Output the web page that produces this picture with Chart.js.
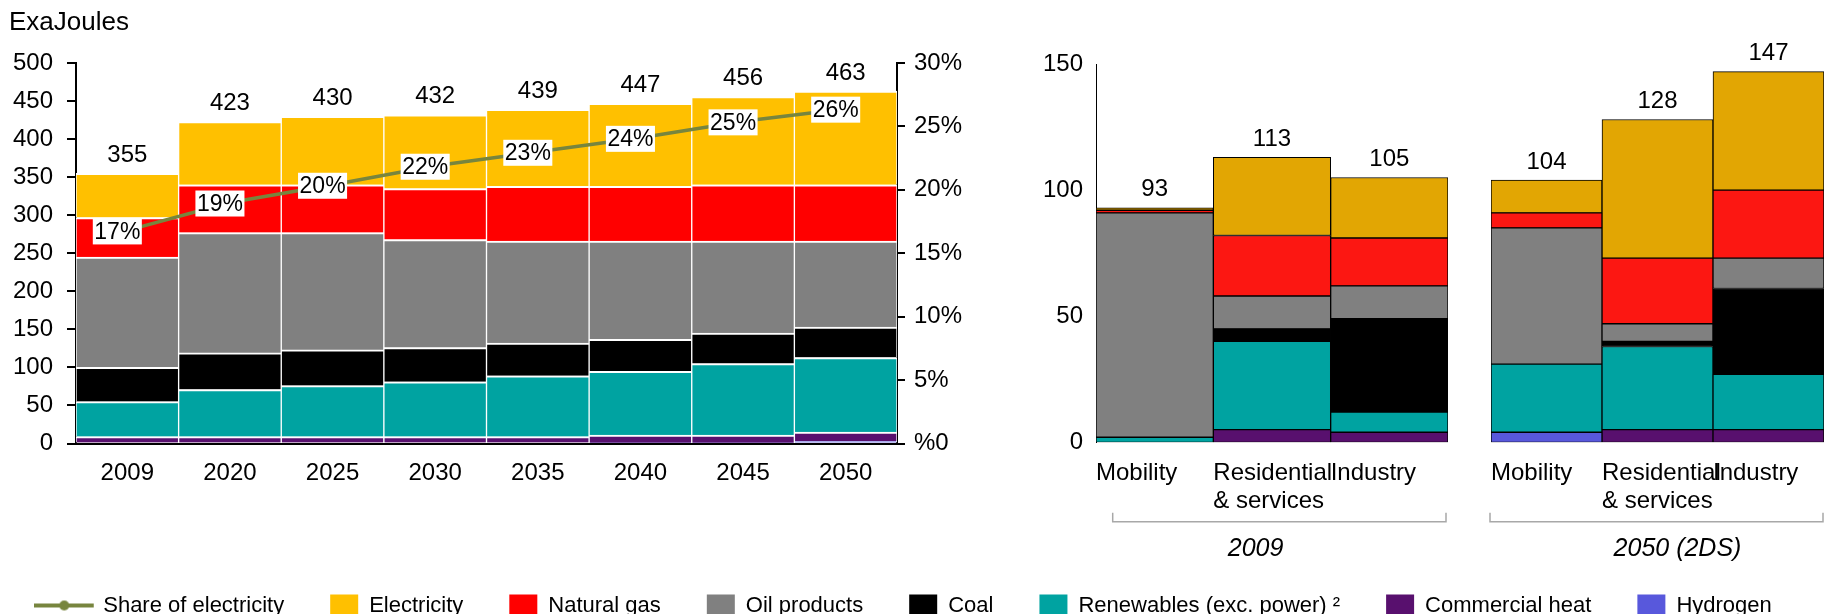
<!DOCTYPE html>
<html><head><meta charset="utf-8">
<script src="https://cdn.jsdelivr.net/npm/chart.js@4.4.1/dist/chart.umd.min.js"></script>
<style>
html,body{margin:0;padding:0;background:#fff;overflow:hidden;width:1827px;height:614px}
canvas{position:absolute;top:0}
#main{left:0}
#r1{left:1020px}
#r2{left:1480px}
</style></head><body>
<canvas id="main" width="1827" height="614"></canvas>
<canvas id="r1" width="440" height="614"></canvas>
<canvas id="r2" width="347" height="614"></canvas>
<script>
// ---------- DATA ----------
const years = ['2009','2020','2025','2030','2035','2040','2045','2050'];
const hydrogenL = [0, 0, 0, 0, 0, 1, 1, 3];
const heatL     = [9, 9, 9, 9, 9, 10, 10, 12];
const renewL    = [46, 62, 67, 72, 80, 84, 94, 98];
const coalL     = [45, 48, 47, 45, 43, 42, 40, 40];
const oilL      = [145, 158, 154, 142, 134, 129, 121, 113];
const gasL      = [52, 63, 63, 67, 72, 72, 74, 74];
const elecL     = [58, 83, 90, 97, 101, 109, 116, 123];
const shareElec = [16.8, 19.0, 20.4, 21.9, 23.0, 24.1, 25.4, 26.4];
const leftTickLabels = ['0','50','100','150','200','250','300','350','400','450','500'];
const pctTickLabels = ['%0','5%','10%','15%','20%','25%','30%'];

const sectors = [['Mobility'], ['Residential', '& services'], ['Industry']];
const hydrogen2009 = [0, 0, 0];
const heat2009     = [0, 5, 4];
const renew2009    = [2, 35, 8];
const coal2009     = [0, 5, 37];
const oil2009      = [89, 13, 13];
const gas2009      = [1, 24, 19];
const elec2009     = [1, 31, 24];
const hydrogen2050 = [4, 0, 0];
const heat2050     = [0, 5, 5];
const renew2050    = [27, 33, 22];
const coal2050     = [0, 2, 34];
const oil2050      = [54, 7, 12];
const gas2050      = [6, 26, 27];
const elec2050     = [13, 55, 47];
const rightTickLabels = ['0','50','100','150'];
const groupTitles = ['2009', '2050 (2DS)'];

const seriesNames = ['Hydrogen','Commercial heat','Renewables (exc. power) \u00B2','Coal','Oil products','Natural gas','Electricity'];
const shareName = 'Share of electricity';

// ---------- STYLE ----------
const FONT = '"Liberation Sans", Arial, sans-serif';
Chart.defaults.font.family = FONT;
Chart.defaults.color = '#000';
const LINE_COLOR = '#77853E';
const leftColors  = ['#5858DC','#58106E','#00A3A1','#000000','#808080','#FF0000','#FFC000'];
const rightColors = ['#5858DC','#58106E','#00A3A1','#000000','#808080','#FC1712','#E2A603'];

// ---------- PLUGINS ----------
const totalsPlugin = {
  id: 'totals',
  afterDatasetsDraw(chart, args, o) {
    const ctx = chart.ctx;
    const bars = chart.data.datasets.map((d, i) => ({d, i})).filter(e => e.d.type === 'bar');
    const yScale = chart.scales.y;
    ctx.save();
    ctx.font = o.size + 'px ' + FONT;
    ctx.fillStyle = '#000'; ctx.textAlign = 'center'; ctx.textBaseline = 'middle';
    chart.data.labels.forEach((lab, k) => {
      let sum = 0;
      bars.forEach(e => { sum += e.d.data[k] || 0; });
      const x = chart.getDatasetMeta(bars[0].i).data[k].x;
      const y = yScale.getPixelForValue(sum);
      ctx.fillText(String(Math.round(sum)), x, y - o.gap);
    });
    ctx.restore();
  }
};

const shareLabelsPlugin = {
  id: 'shareLabels',
  afterDatasetsDraw(chart, args, o) {
    const idx = chart.data.datasets.findIndex(d => d.type === 'line');
    if (idx < 0) return;
    const meta = chart.getDatasetMeta(idx);
    const ctx = chart.ctx;
    ctx.save();
    ctx.font = o.size + 'px ' + FONT;
    ctx.textAlign = 'center'; ctx.textBaseline = 'middle';
    meta.data.forEach((pt, k) => {
      const txt = Math.round(chart.data.datasets[idx].data[k]) + '%';
      const w = ctx.measureText(txt).width + 3, h = 26;
      const cx = pt.x + o.dx, cy = pt.y + o.dy;
      ctx.fillStyle = '#fff'; ctx.fillRect(cx - w / 2, cy - h / 2, w, h);
      ctx.fillStyle = '#000'; ctx.fillText(txt, cx, cy + 1);
    });
    ctx.restore();
  }
};

const groupPlugin = {
  id: 'groupLabels',
  afterDraw(chart, args, o) {
    const ctx = chart.ctx, area = chart.chartArea, xs = chart.scales.x;
    const n = chart.data.labels.length, band = (area.right - area.left) / n;
    ctx.save();
    ctx.fillStyle = '#000';
    ctx.font = o.size + 'px ' + FONT;
    ctx.textAlign = 'left'; ctx.textBaseline = 'middle';
    chart.data.labels.forEach((lab, i) => {
      const x = xs.getPixelForValue(i) - band / 2;
      [].concat(lab).forEach((line, j) => ctx.fillText(line, x, area.bottom + o.labelDy + j * o.lineHeight));
    });
    const bl = area.left + o.bracket[0], br = area.right - o.bracket[1], by = area.bottom + o.bracketDy;
    ctx.strokeStyle = '#A8A8A8'; ctx.lineWidth = 1.5;
    ctx.beginPath(); ctx.moveTo(bl, by - 9); ctx.lineTo(bl, by); ctx.lineTo(br, by); ctx.lineTo(br, by - 9); ctx.stroke();
    ctx.font = 'italic ' + o.titleSize + 'px ' + FONT;
    ctx.textAlign = 'center';
    ctx.fillText(o.title, area.left + o.titleDx, area.bottom + o.titleDy);
    ctx.restore();
  }
};

function shareLegendIcon() {
  const c = document.createElement('canvas');
  c.width = 89; c.height = 14;
  const g = c.getContext('2d');
  g.strokeStyle = LINE_COLOR; g.lineWidth = 4;
  g.beginPath(); g.moveTo(0, 7); g.lineTo(60, 7); g.stroke();
  g.fillStyle = LINE_COLOR;
  g.beginPath(); g.arc(30.5, 7, 5, 0, Math.PI * 2); g.fill();
  return c;
}
const legendIcon = shareLegendIcon();

// ---------- MAIN CHART ----------
const leftSeries = [hydrogenL, heatL, renewL, coalL, oilL, gasL, elecL];
const mainDatasets = leftSeries.map((arr, i) => ({
  type: 'bar', label: seriesNames[i], data: arr, backgroundColor: leftColors[i],
  borderColor: '#fff', borderWidth: {top: 2, left: 1, right: 1, bottom: 0}, borderSkipped: 'start',
  stack: 's', order: 1, categoryPercentage: 1, barPercentage: 1, yAxisID: 'y'
}));
mainDatasets.push({
  type: 'line', label: shareName, data: shareElec, borderColor: LINE_COLOR, backgroundColor: LINE_COLOR,
  borderWidth: 3.5, pointRadius: 0, tension: 0, yAxisID: 'y1', order: 0
});

new Chart(document.getElementById('main'), {
  type: 'bar',
  data: {labels: years, datasets: mainDatasets},
  options: {
    responsive: false, animation: false,
    layout: {padding: {left: 9, right: 0, top: 0, bottom: 0}},
    scales: {
      x: {
        stacked: true,
        grid: {display: false, drawTicks: false},
        border: {display: true, color: '#000', width: 2},
        ticks: {font: {size: 24}, color: '#000', padding: 15, maxRotation: 0, autoSkip: false},
        afterFit(s) { s.height = 105; }
      },
      y: {
        stacked: true, min: 0, max: 500,
        ticks: {stepSize: 50, font: {size: 24}, color: '#000', padding: 14,
                callback: (v, i) => leftTickLabels[i]},
        grid: {drawOnChartArea: false, drawTicks: true, tickLength: 9, color: '#000', lineWidth: 2},
        border: {display: true, color: '#000', width: 2},
        afterFit(s) { s.width = 67; }
      },
      y1: {
        position: 'right', min: 0, max: 30,
        ticks: {stepSize: 5, font: {size: 24}, color: '#000', padding: 9,
                callback: (v, i) => pctTickLabels[i]},
        grid: {drawOnChartArea: false, drawTicks: true, tickLength: 8, color: '#000', lineWidth: 2},
        border: {display: true, color: '#000', width: 2},
        afterFit(s) { s.width = 930; }
      }
    },
    plugins: {
      title: {display: true, text: 'ExaJoules', align: 'start', color: '#000',
              font: {size: 26, weight: 'normal'}, padding: {top: 7, bottom: 24.8}},
      tooltip: {enabled: false},
      legend: {
        position: 'bottom', maxHeight: 65.5,
        labels: {
          font: {size: 22}, color: '#000', padding: 46,
          usePointStyle: true, pointStyleWidth: 28, boxHeight: 22,
          generateLabels(chart) {
            const items = Chart.defaults.plugins.legend.labels.generateLabels(chart);
            items.forEach(it => {
              const ds = chart.data.datasets[it.datasetIndex];
              it.pointStyle = ds.type === 'line' ? legendIcon : 'rect';
              it.lineWidth = 0;
              it.strokeStyle = 'rgba(0,0,0,0)';
              it.fontColor = '#000';
            });
            return items;
          },
          sort(a, b) {
            const r = it => (it.text === shareName ? -100 : -it.datasetIndex);
            return r(a) - r(b);
          }
        }
      },
      totals: {size: 24, gap: 18},
      shareLabels: {size: 23, dx: -10, dy: 1}
    }
  },
  plugins: [totalsPlugin, shareLabelsPlugin]
});

// ---------- RIGHT CHARTS ----------
function sectorDatasets(series) {
  return series.map((arr, i) => ({
    type: 'bar', label: seriesNames[i], data: arr, backgroundColor: rightColors[i],
    borderColor: '#000', borderWidth: 1, borderSkipped: false,
    stack: 's', categoryPercentage: 1, barPercentage: 1
  }));
}

function sectorChart(id, series, showAxis, pad, group) {
  return new Chart(document.getElementById(id), {
    type: 'bar',
    data: {labels: sectors, datasets: sectorDatasets(series)},
    options: {
      responsive: false, animation: false,
      layout: {padding: pad},
      scales: {
        x: {display: false, stacked: true},
        y: {
          display: showAxis, stacked: true, min: 0, max: 150,
          ticks: {stepSize: 50, font: {size: 24}, color: '#000', padding: 13,
                  callback: (v, i) => rightTickLabels[i]},
          grid: {display: false, drawTicks: false},
          border: {display: true, color: '#000', width: 1},
          afterFit(s) { if (showAxis) s.width = 76; }
        }
      },
      plugins: {
        legend: {display: false}, tooltip: {enabled: false},
        totals: {size: 24, gap: 18},
        groupLabels: group
      }
    },
    plugins: [totalsPlugin, groupPlugin]
  });
}

sectorChart('r1', [hydrogen2009, heat2009, renew2009, coal2009, oil2009, gas2009, elec2009], true,
  {left: 0, right: 12, top: 64, bottom: 171.7},
  {size: 24, labelDy: 31, lineHeight: 27.7, bracketDy: 79.4, bracket: [16.7, 2],
   title: groupTitles[0], titleSize: 25, titleDx: 159.6, titleDy: 107});

sectorChart('r2', [hydrogen2050, heat2050, renew2050, coal2050, oil2050, gas2050, elec2050], false,
  {left: 11, right: 3, top: 64, bottom: 171.7},
  {size: 24, labelDy: 31, lineHeight: 27.7, bracketDy: 79.4, bracket: [-1, 1],
   title: groupTitles[1], titleSize: 25, titleDx: 186.5, titleDy: 107});
</script>
</body></html>
